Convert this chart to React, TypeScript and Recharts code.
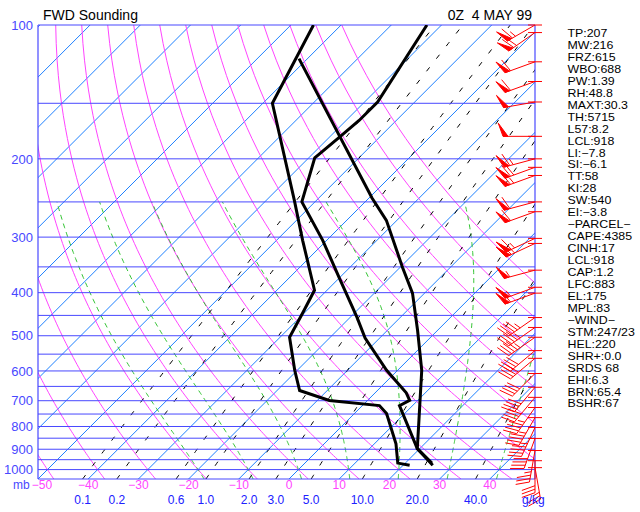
import React from "react";
import {
  ComposedChart,
  Line,
  ReferenceLine,
  Scatter,
  XAxis,
  YAxis,
} from "recharts";

const FONT = "'Liberation Sans', Arial, sans-serif";
const SKEW = 88.5; // deg C of skew per decade of pressure (45 deg isotherms)
const P_BOT = 1050;
const P_TOP = 100;

const TEMP_P = [100, 149, 164, 179, 199, 250, 305, 370, 454, 506, 598, 672, 699, 718, 897, 978];
const TEMP_C = [-62.9, -57.4, -57.4, -58.0, -58.8, -52.6, -40.8, -30.1, -18.7, -12.9, -2.2, 6.2, 8.4, 7.4, 19.5, 25.9];

// dewpoint
const DEW_P = [100, 150, 248, 305, 395, 445, 504, 598, 664, 699, 718, 748, 875, 967, 978];
const DEW_C = [-85.5, -78.1, -54.4, -44.8, -32.5, -30.3, -28.1, -20.5, -15.5, -7.6, 3.4, 6.4, 14.3, 18.5, 21.3];

// lifted parcel
const PARCEL_P = [119, 245, 275, 351, 401, 486, 598, 777, 897, 967];
const PARCEL_C = [-81.7, -39.4, -32.1, -19.5, -12.4, -4.0, 4.8, 14.3, 19.5, 25.3];

// winds (mb, deg, kt)
const WIND_P = [100, 104, 121, 134, 149, 178, 200, 209, 218, 250, 263, 302, 310, 356, 389, 401, 455, 479, 504, 540, 562, 608, 653, 688, 725, 764, 804, 851, 906, 955, 990];
const WIND_DIR = [240, 235, 250, 250, 260, 270, 255, 250, 250, 255, 250, 245, 245, 255, 250, 250, 235, 235, 235, 230, 230, 225, 220, 220, 215, 210, 205, 200, 190, 180, 170];
const WIND_SPD = [65, 70, 60, 60, 50, 50, 65, 70, 65, 60, 60, 65, 65, 55, 55, 55, 45, 45, 45, 40, 40, 40, 40, 40, 45, 45, 45, 40, 35, 30, 25];

const PRESSURE_TICKS = [100, 200, 300, 400, 500, 600, 700, 800, 900, 1000];
const ISOBARS = [150, 200, 250, 300, 350, 400, 450, 500, 550, 600, 650, 700, 750, 800, 850, 900, 950, 1000];
const TEMP_TICKS = [-50, -40, -30, -20, -10, 0, 10, 20, 30, 40];
const ISOTHERMS = [-140, -130, -120, -110, -100, -90, -80, -70, -60, -50, -40, -30, -20, -10, 0, 10, 20, 30, 40];
const DRY_THETA = [-50, -40, -30, -20, -10, 0, 10, 20, 30, 40, 50, 60, 70, 80, 90, 100];
const MOIST_THW = [-20, -10, 0, 10, 20, 30, 40];
const MIX_RATIOS = [0.1, 0.2, 0.6, 1, 2, 3, 5, 10, 20, 40];
const MIX_LABELS = ["0.1", "0.2", "0.6", "1.0", "2.0", "3.0", "5.0", "10.0", "20.0", "40.0"];

const INDICES = [
  "TP:207", "MW:216", "FRZ:615", "WBO:688", "PW:1.39", "RH:48.8", "MAXT:30.3", "TH:5715",
  "L57:8.2", "LCL:918", "LI:−7.8", "SI:−6.1", "TT:58", "KI:28", "SW:540", "EI:−3.8",
  "−PARCEL−", "CAPE:4385", "CINH:17", "LCL:918", "CAP:1.2", "LFC:883", "EL:175", "MPL:83",
  "−WIND−", "STM:247/23", "HEL:220", "SHR+:0.0", "SRDS 68", "EHI:6.3", "BRN:65.4", "BSHR:67",
];

const skewX = (t: number, p: number) => t + SKEW * Math.log10(P_BOT / p);

const PGRID: number[] = [];
for (let p = P_BOT; p >= P_TOP; p -= 10) PGRID.push(p);

const toRows = (ps: number[], ts: number[]) => ps.map((p, i) => ({ x: skewX(ts[i], p), p }));

function satVap(tc: number) {
  return 6.112 * Math.exp((17.67 * tc) / (tc + 243.5));
}

function dewFromMix(w: number, p: number) {
  const e = (w * p) / (622 + w);
  const l = Math.log(e / 6.112);
  return (243.5 * l) / (17.67 - l);
}

function moistRate(tk: number, p: number) {
  const es = satVap(tk - 273.15);
  const rs = (0.622 * es) / (p - es);
  const lv = 2.501e6;
  return (287.04 * tk + lv * rs) / (p * (1005.7 + (lv * lv * rs * 0.622) / (287.04 * tk * tk)));
}

function moistRows(thw: number) {
  let t = thw + 273.15;
  const step = (p: number, dp: number) => {
    const k1 = moistRate(t, p);
    const k2 = moistRate(t + (k1 * dp) / 2, p + dp / 2);
    t += k2 * dp;
  };
  for (let p = 1000; p < P_BOT; p += 5) step(p, 5);
  const rows = [{ x: skewX(t - 273.15, P_BOT), p: P_BOT }];
  for (let p = P_BOT; p > 250; p -= 5) {
    step(p, -5);
    rows.push({ x: skewX(t - 273.15, p - 5), p: p - 5 });
  }
  return rows;
}

const isothermRows = ISOTHERMS.map((t) => [
  { x: skewX(t, P_BOT), p: P_BOT },
  { x: skewX(t, P_TOP), p: P_TOP },
]);
const dryRows = DRY_THETA.map((th) =>
  PGRID.map((p) => ({ x: skewX((th + 273.15) * Math.pow(p / 1000, 0.2857) - 273.15, p), p })),
);
const moistLines = MOIST_THW.map(moistRows);
const mixRows = MIX_RATIOS.map((w) => PGRID.map((p) => ({ x: skewX(dewFromMix(w, p), p), p })));
const mixTicks = MIX_RATIOS.map((w) => dewFromMix(w, P_BOT));

const windRows = WIND_P.map((p, i) => ({ x: 49, p, dir: WIND_DIR[i], spd: WIND_SPD[i] }));

function WindBarb(props: any) {
  const { cx, cy, payload } = props;
  if (cx == null || cy == null) return null;
  const a = (payload.dir * Math.PI) / 180;
  const dx = Math.sin(a);
  const dy = -Math.cos(a);
  const nx = -dy;
  const ny = dx;
  const L = 32;
  const F = 14;
  const tx = cx + dx * L;
  const ty = cy + dy * L;
  const fx = nx * 0.94 + dx * 0.34;
  const fy = ny * 0.94 + dy * 0.34;
  const at = (s: number) => [tx - dx * s, ty - dy * s];
  let spd = Math.round(payload.spd / 5) * 5;
  let s = 0;
  const parts: React.ReactNode[] = [];
  while (spd >= 50) {
    const [ax, ay] = at(s);
    const [bx, by] = at(s + 5);
    parts.push(
      <polygon key={`f${s}`} points={`${ax},${ay} ${bx},${by} ${ax + fx * F},${ay + fy * F}`} fill="#ff0000" />,
    );
    s += 6;
    spd -= 50;
  }
  while (spd >= 10) {
    const [ax, ay] = at(s);
    parts.push(<line key={`b${s}`} x1={ax} y1={ay} x2={ax + fx * F} y2={ay + fy * F} />);
    s += 3.5;
    spd -= 10;
  }
  if (spd >= 5) {
    const [ax, ay] = at(s);
    parts.push(<line key={`h${s}`} x1={ax} y1={ay} x2={ax + fx * F * 0.5} y2={ay + fy * F * 0.5} />);
  }
  return (
    <g stroke="#ff0000" strokeWidth={1}>
      <line x1={cx - 7} y1={cy} x2={cx + 7} y2={cy} />
      <line x1={cx} y1={cy} x2={tx} y2={ty} />
      {parts}
    </g>
  );
}

const fmtTemp = (v: number) => (v < 0 ? `−${Math.abs(v)}` : String(v));

const TempTick = (props: any) => (
  <text
    x={props.x + (props.payload.value === -50 ? 4 : 0)}
    y={489}
    textAnchor="middle"
    fill="#ff44ff"
    fontSize={12}
    fontFamily={FONT}
  >
    {fmtTemp(props.payload.value)}
  </text>
);

const MixTick = (props: any) => (
  <text x={props.x} y={503.5} textAnchor="middle" fill="#2020ff" fontSize={12} fontFamily={FONT}>
    {MIX_LABELS[props.index]}
  </text>
);

const PressTick = (props: any) => (
  <text x={33} y={props.y} dy="0.36em" textAnchor="end" fill="#4848ff" fontSize={13} fontFamily={FONT}>
    {props.payload.value}
  </text>
);

export default function App() {
  const line = (key: string, data: any[], stroke: string, extra: any = {}) => (
    <Line
      key={key}
      data={data}
      dataKey="p"
      stroke={stroke}
      strokeWidth={1}
      dot={false}
      activeDot={false}
      isAnimationActive={false}
      {...extra}
    />
  );

  return (
    <div style={{ position: "absolute", left: 0, top: 0, width: 640, height: 512, background: "#fff" }}>
      <ComposedChart width={640} height={512} margin={{ top: 25, right: 105, bottom: 0, left: 0 }}>
        <XAxis
          type="number"
          dataKey="x"
          domain={[-50, 49]}
          allowDataOverflow
          ticks={TEMP_TICKS}
          interval={0}
          tick={TempTick}
          axisLine={false}
          tickLine={false}
          height={14}
        />
        <XAxis
          xAxisId="mr"
          type="number"
          dataKey="x"
          domain={[-50, 49]}
          allowDataOverflow
          ticks={mixTicks}
          interval={0}
          tick={MixTick}
          axisLine={false}
          tickLine={false}
          height={19}
        />
        <XAxis xAxisId="w" type="number" dataKey="x" domain={[-50, 49]} hide />
        <YAxis
          type="number"
          dataKey="p"
          scale="log"
          domain={[P_TOP, P_BOT]}
          reversed
          allowDataOverflow
          ticks={PRESSURE_TICKS}
          interval={0}
          tick={PressTick}
          axisLine={false}
          tickLine={false}
          width={38}
        />
        <YAxis yAxisId="w" type="number" dataKey="p" scale="log" domain={[P_TOP, P_BOT]} reversed hide />

        {isothermRows.map((d, i) => line(`it${i}`, d, "#1e80ff"))}
        {dryRows.map((d, i) => line(`da${i}`, d, "#ff44ff"))}
        {moistLines.map((d, i) => line(`ma${i}`, d, "#33c433", { strokeDasharray: "5 4" }))}
        {mixRows.map((d, i) => line(`mr${i}`, d, "#000000", { strokeDasharray: "5 11", xAxisId: "mr" }))}

        {ISOBARS.map((p) => (
          <ReferenceLine key={`ib${p}`} y={p} stroke="#4848ff" strokeWidth={1} />
        ))}
        <ReferenceLine y={P_TOP} stroke="#4848ff" strokeWidth={1.2} />
        <ReferenceLine y={P_BOT} stroke="#4848ff" strokeWidth={1.2} />
        <ReferenceLine x={-50} stroke="#4848ff" strokeWidth={1.2} />
        <ReferenceLine x={49} stroke="#4848ff" strokeWidth={1.2} />

        {line("parcel", toRows(PARCEL_P, PARCEL_C), "#000000", { strokeWidth: 3 })}
        {line("dew", toRows(DEW_P, DEW_C), "#000000", { strokeWidth: 3 })}
        {line("temp", toRows(TEMP_P, TEMP_C), "#000000", { strokeWidth: 3 })}

        <Scatter
          data={windRows}
          xAxisId="w"
          yAxisId="w"
          dataKey="p"
          shape={WindBarb}
          isAnimationActive={false}
        />
      </ComposedChart>

      <svg
        width={640}
        height={512}
        style={{ position: "absolute", left: 0, top: 0, pointerEvents: "none" }}
        fontFamily={FONT}
      >
        <text x={43} y={20} fontSize={14} fill="#000">FWD Sounding</text>
        <text x={532} y={20} fontSize={14} fill="#000" textAnchor="end" style={{ whiteSpace: "pre" }}>
          0Z  4 MAY 99
        </text>
        <text x={13} y={489} fontSize={12} fill="#4848ff">mb</text>
        <text x={522} y={503.5} fontSize={12} fill="#2020ff">g/kg</text>
        {INDICES.map((s, i) => (
          <text
            key={i}
            transform={`translate(567.5 ${37 + i * 11.95}) scale(1.19 1)`}
            fontSize={10.4}
            fill="#000"
          >
            {s}
          </text>
        ))}
      </svg>
    </div>
  );
}
